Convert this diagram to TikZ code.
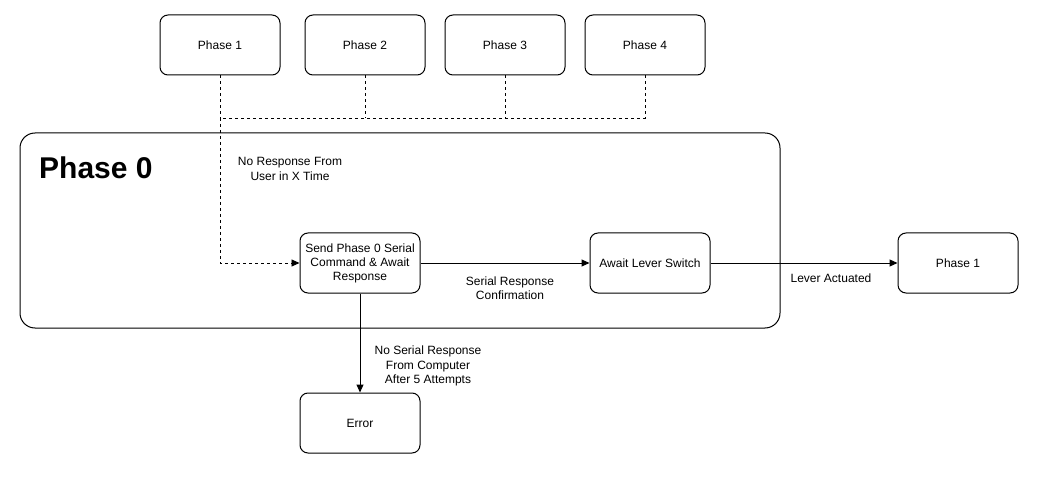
\documentclass[tikz,border=0pt]{standalone}
\usepackage{fontspec}
\setmainfont{Liberation Sans}
\usetikzlibrary{arrows.meta}
\begin{document}
\begin{tikzpicture}[x=1pt,y=-1pt,
  box/.style={draw,rounded corners=8pt,line width=1pt,minimum width=120pt,minimum height=60pt,align=center,font=\fontsize{12}{14}\selectfont,inner sep=2pt},
  lbl/.style={align=center,font=\fontsize{12}{14.5}\selectfont,inner sep=0pt},
  arr/.style={-{Triangle[length=8pt,width=7pt]},line width=1pt},
  dsh/.style={dashed,dash pattern=on 3pt off 3pt,line width=0.9pt}]
\useasboundingbox (0,0) rectangle (1043,478);
\draw[line width=1pt,rounded corners=15pt] (20,133) rectangle (780,328);
\node[anchor=west,font=\fontsize{30}{34}\selectfont\bfseries,inner sep=0pt] (p0) at (39,168) {Phase 0};
\node[box] (ph1) at (220,45) {Phase 1};
\node[box] (ph2) at (365,45) {Phase 2};
\node[box] (ph3) at (505,45) {Phase 3};
\node[box] (ph4) at (645,45) {Phase 4};
\node[box] (send) at (360,263) {Send Phase 0 Serial\\Command \& Await\\Response};
\node[box] (await) at (650,263) {Await Lever Switch};
\node[box] (ph1b) at (958,263) {Phase 1};
\node[box] (err) at (360,423) {Error};
\coordinate (j1) at (220,118);
\coordinate (j2) at (365,118);
\coordinate (j3) at (505,118);
\coordinate (j4) at (645,118);
\coordinate (bend) at (220,263);
\draw[dsh] (ph1.south) -- (j1);
\draw[dsh] (ph2.south) -- (j2);
\draw[dsh] (ph3.south) -- (j3);
\draw[dsh] (ph4.south) -- (j4) -- (j1);
\draw[dsh,-{Triangle[length=8pt,width=7pt]}] (j1) -- (bend) -- (send.west);
\node[lbl] (l1) at (290,169) {No Response From\\User in X Time};
\draw[arr] (send.east) -- (await.west);
\node[lbl] (l2) at (510,288) {Serial Response\\Confirmation};
\draw[arr] (await.east) -- (ph1b.west);
\node[lbl] (l3) at (831,278) {Lever Actuated};
\draw[arr] (send.south) -- (err.north);
\node[lbl] (l4) at (428,366) {No Serial Response\\From Computer\\After 5 Attempts};
\end{tikzpicture}
\end{document}
